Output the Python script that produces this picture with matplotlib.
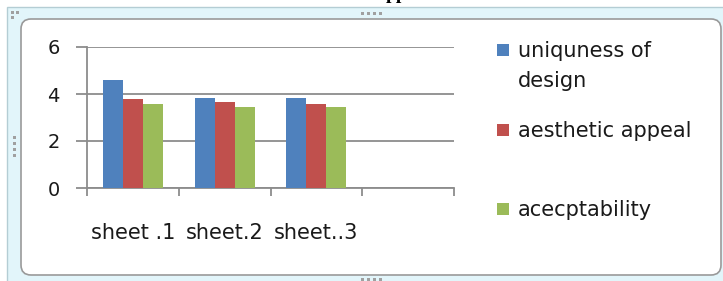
import matplotlib.pyplot as plt
from matplotlib.patches import FancyBboxPatch, Rectangle

# data
categories = ["sheet .1", "sheet.2", "sheet..3", ""]
uniqueness = [4.6, 3.83, 3.83]
aesthetic = [3.8, 3.65, 3.57]
acceptability = [3.57, 3.43, 3.43]
series_names = ["uniquness of\ndesign", "aesthetic appeal", "acecptability"]
colors = ["#4F81BD", "#C0504D", "#9BBB59"]
yticks = [0, 2, 4, 6]

W, H = 723, 281
plt.rcParams["font.family"] = ["DejaVu Sans"]
fig = plt.figure(figsize=(W / 100, H / 100), dpi=100)

# --- document frame around the embedded chart ---
bg = fig.add_axes([0, 0, 1, 1], zorder=0)
bg.set_xlim(0, W)
bg.set_ylim(H, 0)
bg.axis("off")
bg.add_patch(Rectangle((7, 7), 740, 300, facecolor="#e2f5fa", edgecolor="#b4cdd4", lw=1))
bg.add_patch(FancyBboxPatch((21, 19), 700, 256, boxstyle="round,pad=0,rounding_size=10",
                            facecolor="white", edgecolor="#9a9a9a", lw=1.2))
for x in [362, 368, 374, 380]:
    bg.add_patch(Rectangle((x - 1.5, 11.5), 3, 3, color="#a0a0a0", lw=0))
    bg.add_patch(Rectangle((x - 1.5, 277.5), 3, 3, color="#a0a0a0", lw=0))
for y in [137, 143, 149, 155]:
    bg.add_patch(Rectangle((12.5, y - 1.5), 3, 3, color="#a0a0a0", lw=0))
for (x, y) in [(12, 12), (17, 12), (12, 17)]:
    bg.add_patch(Rectangle((x - 1.5, y - 1.5), 3, 3, color="#a0a0a0", lw=0))
bg.text(397, -1, "pp", fontsize=14, fontweight="bold", family="Liberation Serif",
        ha="center", va="baseline", color="black")

# --- chart ---
ax = fig.add_axes([87 / W, 1 - 188 / H, 367 / W, 141 / H], zorder=1)
ax.patch.set_alpha(0)
n = len(uniqueness)
bw = 0.218
xs = list(range(n))
for i, (vals, c) in enumerate(zip([uniqueness, aesthetic, acceptability], colors)):
    ax.bar([x + (i - 1) * bw for x in xs], vals, width=bw, color=c, zorder=3)

ax.set_xlim(-0.5, len(categories) - 0.5)
ax.set_ylim(0, 6)
ax.set_yticks(yticks)
ax.yaxis.grid(True, color="#8c8c8c", lw=1.3)
ax.set_axisbelow(True)
ax.set_xticks([x - 0.5 for x in range(len(categories) + 1)])
ax.set_xticklabels([])
ax.set_xticks(range(len(categories)), minor=True)
ax.set_xticklabels(categories, minor=True)
ax.tick_params(axis="x", which="major", length=6, color="#8c8c8c", width=1.3)
ax.tick_params(axis="x", which="minor", length=0, pad=25, labelsize=15, labelcolor="#1a1a1a")
ax.tick_params(axis="y", length=8, color="#8c8c8c", width=1.3, pad=11.5, labelsize=14,
               labelcolor="#1a1a1a")
for s in ["top", "right"]:
    ax.spines[s].set_visible(False)
for s in ["left", "bottom"]:
    ax.spines[s].set_color("#8c8c8c")
    ax.spines[s].set_linewidth(1.3)

# --- legend (Excel-style, uneven spacing) ---
legend_y = [50, 130, 209]
for name, c, y in zip(series_names, colors, legend_y):
    bg.add_patch(Rectangle((497, y - 6), 12, 12, color=c, lw=0))
    for k, line in enumerate(name.split("\n")):
        bg.text(518, y + 1 + 30 * k, line, fontsize=15, color="#1a1a1a",
                va="center", ha="left")

fig.savefig("out.png", dpi=100)
